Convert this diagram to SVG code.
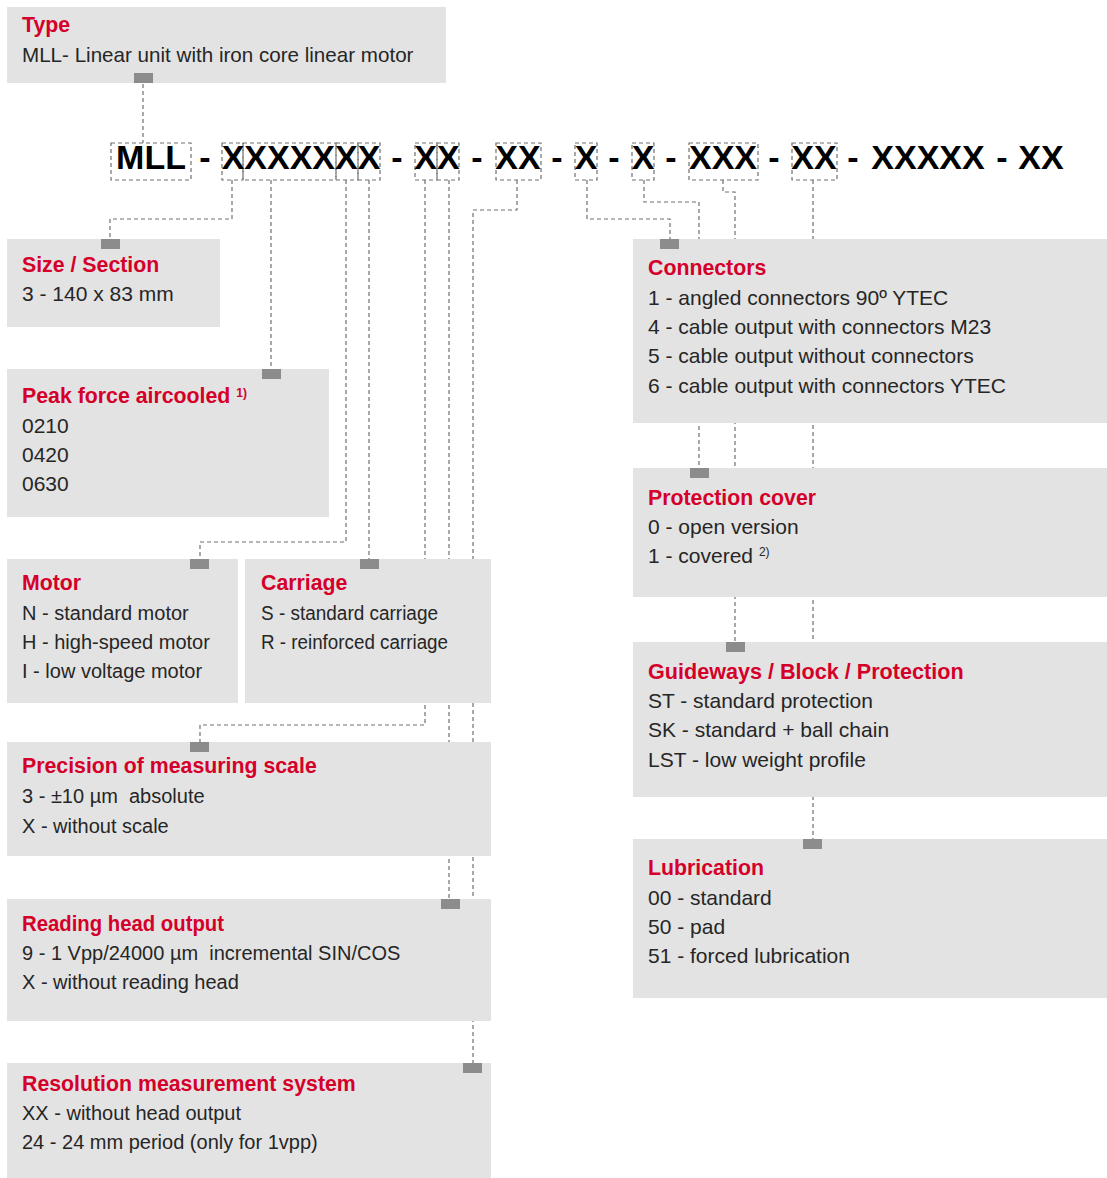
<svg xmlns="http://www.w3.org/2000/svg" width="1107" height="1178" viewBox="0 0 1107 1178">
<style>
.bg{fill:#ffffff}
.box{fill:#e3e3e3}
.sq{fill:#8c8c8c}
.t{font-family:"Liberation Sans",Arial,sans-serif;font-weight:bold;font-size:21.3px;fill:#d5002a}
.b{font-family:"Liberation Sans",Arial,sans-serif;font-size:21px;fill:#262626}
.bl{font-family:"Liberation Sans",Arial,sans-serif;font-size:20px;fill:#262626}
.sup{font-family:"Liberation Sans",Arial,sans-serif;font-size:12px;fill:#262626}
.supr{font-family:"Liberation Sans",Arial,sans-serif;font-weight:bold;font-size:12px;fill:#d5002a}
.code{font-family:"Liberation Sans",Arial,sans-serif;font-weight:bold;font-size:34px;fill:#000000;text-anchor:middle}
.c{fill:none;stroke:#707070;stroke-width:1.2;stroke-dasharray:4 3}
</style>
<rect class="bg" x="0" y="0" width="1107" height="1178"/>

<g id="connectors">
<polyline class="c" points="143,84 143,143"/>
<polyline class="c" points="232,180 232,219 110,219 110,239"/>
<polyline class="c" points="271,180 271,369"/>
<polyline class="c" points="346,180 346,542 200,542 200,559"/>
<polyline class="c" points="369,180 369,559"/>
<polyline class="c" points="425,180 425,725 200,725 200,742"/>
<polyline class="c" points="449,180 449,899"/>
<polyline class="c" points="517,180 517,210 473,210 473,1063"/>
<polyline class="c" points="587,180 587,219 670,219 670,239"/>
<polyline class="c" points="644,180 644,202 699,202 699,468"/>
<polyline class="c" points="723,180 723,192 735,192 735,642"/>
<polyline class="c" points="813,180 813,839"/>
</g>

<g id="code">
<rect class="c" x="111" y="143" width="80" height="37"/>
<rect class="c" x="222" y="143" width="21" height="37"/>
<rect class="c" x="243" y="143" width="93" height="37"/>
<rect class="c" x="336" y="143" width="22" height="37"/>
<rect class="c" x="358" y="143" width="22" height="37"/>
<rect class="c" x="415" y="143" width="22" height="37"/>
<rect class="c" x="437" y="143" width="22" height="37"/>
<rect class="c" x="496" y="143" width="45" height="37"/>
<rect class="c" x="575" y="143" width="22" height="37"/>
<rect class="c" x="632" y="143" width="22" height="37"/>
<rect class="c" x="689" y="143" width="69" height="37"/>
<rect class="c" x="792" y="143" width="45" height="37"/>
<text class="code" x="151" y="169">MLL</text>
<text class="code" x="205" y="169">-</text>
<text class="code" x="301" y="169">XXXXXXX</text>
<text class="code" x="397" y="169">-</text>
<text class="code" x="437" y="169">XX</text>
<text class="code" x="477" y="169">-</text>
<text class="code" x="518" y="169">XX</text>
<text class="code" x="557" y="169">-</text>
<text class="code" x="586" y="169">X</text>
<text class="code" x="614" y="169">-</text>
<text class="code" x="643" y="169">X</text>
<text class="code" x="671" y="169">-</text>
<text class="code" x="723" y="169">XXX</text>
<text class="code" x="774" y="169">-</text>
<text class="code" x="814" y="169">XX</text>
<text class="code" x="853" y="169">-</text>
<text class="code" x="928" y="169">XXXXX</text>
<text class="code" x="1002" y="169">-</text>
<text class="code" x="1041" y="169">XX</text>
</g>

<g id="type">
<rect class="box" x="7" y="7" width="439" height="76"/>
<rect class="sq" x="134" y="73" width="19" height="10"/>
<text class="t" x="22" y="32">Type</text>
<text class="b" x="22" y="62" style="font-size:20.6px">MLL- Linear unit with iron core linear motor</text>
</g>

<g id="size">
<rect class="box" x="7" y="239" width="213" height="88"/>
<rect class="sq" x="101" y="239" width="19" height="10"/>
<text class="t" x="22" y="272">Size / Section</text>
<text class="b" x="22" y="301">3 - 140 x 83 mm</text>
</g>

<g id="peak">
<rect class="box" x="7" y="369" width="322" height="148"/>
<rect class="sq" x="262" y="369" width="19" height="10"/>
<text class="t" x="22" y="403">Peak force aircooled <tspan class="supr" dy="-6">1)</tspan></text>
<text class="b" x="22" y="433">0210</text>
<text class="b" x="22" y="462">0420</text>
<text class="b" x="22" y="491">0630</text>
</g>

<g id="motor">
<rect class="box" x="7" y="559" width="231" height="144"/>
<rect class="sq" x="190" y="559" width="19" height="10"/>
<text class="t" x="22" y="590">Motor</text>
<text class="bl" x="22" y="620">N - standard motor</text>
<text class="bl" x="22" y="649">H - high-speed motor</text>
<text class="bl" x="22" y="678">I - low voltage motor</text>
</g>

<g id="carriage">
<rect class="box" x="245" y="559" width="246" height="144"/>
<rect class="sq" x="360" y="559" width="19" height="10"/>
<text class="t" x="261" y="590">Carriage</text>
<text class="bl" x="261" y="620" textLength="177" lengthAdjust="spacingAndGlyphs">S - standard carriage</text>
<text class="bl" x="261" y="649" textLength="187" lengthAdjust="spacingAndGlyphs">R - reinforced carriage</text>
</g>

<g id="precision">
<rect class="box" x="7" y="742" width="484" height="114"/>
<rect class="sq" x="190" y="742" width="19" height="10"/>
<text class="t" x="22" y="773">Precision of measuring scale</text>
<text class="bl" x="22" y="803">3 - ±10 µm&#160; absolute</text>
<text class="bl" x="22" y="833">X - without scale</text>
</g>

<g id="reading">
<rect class="box" x="7" y="899" width="484" height="122"/>
<rect class="sq" x="441" y="899" width="19" height="10"/>
<text class="t" x="22" y="931" textLength="202" lengthAdjust="spacingAndGlyphs">Reading head output</text>
<text class="bl" x="22" y="960">9 - 1 Vpp/24000 µm&#160; incremental SIN/COS</text>
<text class="bl" x="22" y="989">X - without reading head</text>
</g>

<g id="resolution">
<rect class="box" x="7" y="1063" width="484" height="115"/>
<rect class="sq" x="463" y="1063" width="19" height="10"/>
<text class="t" x="22" y="1091">Resolution measurement system</text>
<text class="bl" x="22" y="1120">XX - without head output</text>
<text class="bl" x="22" y="1149">24 - 24 mm period (only for 1vpp)</text>
</g>

<g id="connectors-box">
<rect class="box" x="633" y="239" width="474" height="184"/>
<rect class="sq" x="660" y="239" width="19" height="10"/>
<text class="t" x="648" y="275">Connectors</text>
<text class="b" x="648" y="305">1 - angled connectors 90º YTEC</text>
<text class="b" x="648" y="334">4 - cable output with connectors M23</text>
<text class="b" x="648" y="363">5 - cable output without connectors</text>
<text class="b" x="648" y="393">6 - cable output with connectors YTEC</text>
</g>

<g id="protection">
<rect class="box" x="633" y="468" width="474" height="129"/>
<rect class="sq" x="690" y="468" width="19" height="10"/>
<text class="t" x="648" y="505">Protection cover</text>
<text class="b" x="648" y="534">0 - open version</text>
<text class="b" x="648" y="563">1 - covered <tspan class="sup" dy="-7">2)</tspan></text>
</g>

<g id="guideways">
<rect class="box" x="633" y="642" width="474" height="155"/>
<rect class="sq" x="726" y="642" width="19" height="10"/>
<text class="t" x="648" y="679" style="font-size:21.6px">Guideways / Block / Protection</text>
<text class="b" x="648" y="708">ST - standard protection</text>
<text class="b" x="648" y="737">SK - standard + ball chain</text>
<text class="b" x="648" y="767">LST - low weight profile</text>
</g>

<g id="lubrication">
<rect class="box" x="633" y="839" width="474" height="159"/>
<rect class="sq" x="803" y="839" width="19" height="10"/>
<text class="t" x="648" y="875">Lubrication</text>
<text class="b" x="648" y="905">00 - standard</text>
<text class="b" x="648" y="934">50 - pad</text>
<text class="b" x="648" y="963">51 - forced lubrication</text>
</g>
</svg>
